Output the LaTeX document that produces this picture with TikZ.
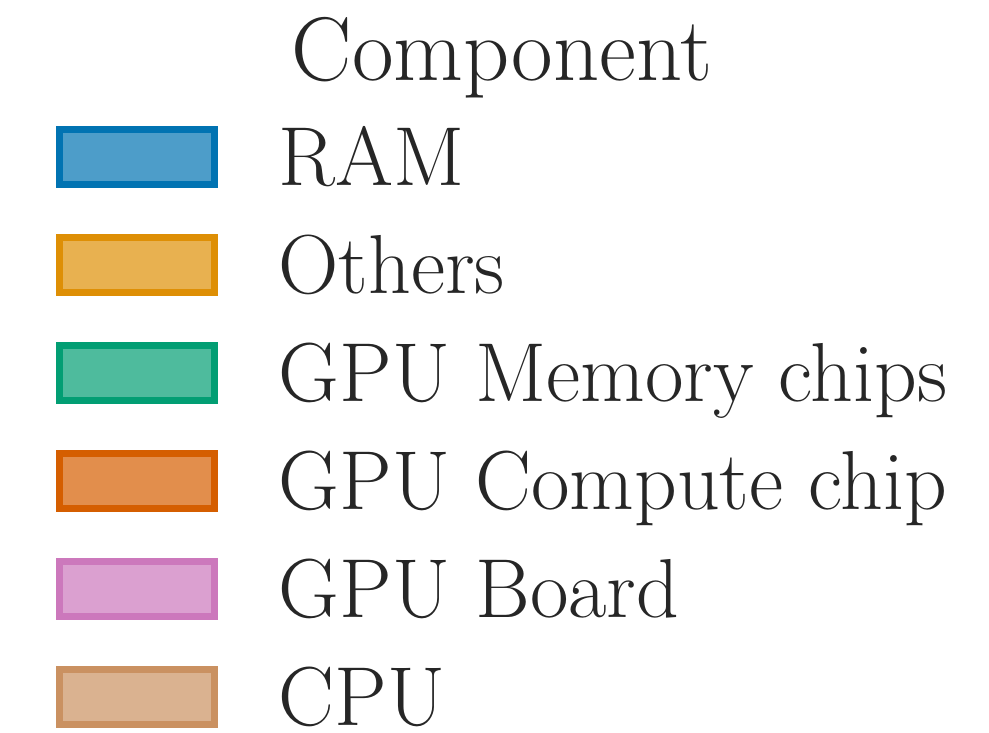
\documentclass[tikz,border=0pt]{standalone}
\usepackage{tikz}
\usetikzlibrary{positioning}

\definecolor{ramc}{HTML}{0173B2}
\definecolor{otherc}{HTML}{DE8F05}
\definecolor{memc}{HTML}{029E73}
\definecolor{compc}{HTML}{D55E00}
\definecolor{boardc}{HTML}{CC78BC}
\definecolor{cpuc}{HTML}{CA9161}
\definecolor{txt}{HTML}{262626}

\begin{document}
\begin{tikzpicture}[
  x=0.01cm, y=-0.01cm,
  swatch/.style={draw=#1, fill=#1!70, line width=0.07cm, minimum width=1.55cm, minimum height=0.55cm, inner sep=0pt},
  lbl/.style={anchor=base west, inner sep=0pt, text=txt, font=\fontsize{23.8}{28}\selectfont},
]
\useasboundingbox (0,0) rectangle (989,732);

\node[lbl, anchor=base, font=\fontsize{25.7}{30}\selectfont] (title) at (502,80) {Component};

\node[swatch=ramc]   (ram)    at (137,157) {};
\node[swatch=otherc] (others) at (137,265) {};
\node[swatch=memc]   (gpumem) at (137,373) {};
\node[swatch=compc]  (gpucmp) at (137,481) {};
\node[swatch=boardc] (gpubrd) at (137,589) {};
\node[swatch=cpuc]   (cpu)    at (137,697) {};

\node[lbl] (ram-l)    at (278,185) {RAM};
\node[lbl] (others-l) at (278,293) {Others};
\node[lbl] (gpumem-l) at (278,401) {GPU Memory chips};
\node[lbl] (gpucmp-l) at (278,509) {GPU Compute chip};
\node[lbl] (gpubrd-l) at (278,617) {GPU Board};
\node[lbl] (cpu-l)    at (278,725) {CPU};
\end{tikzpicture}
\end{document}
